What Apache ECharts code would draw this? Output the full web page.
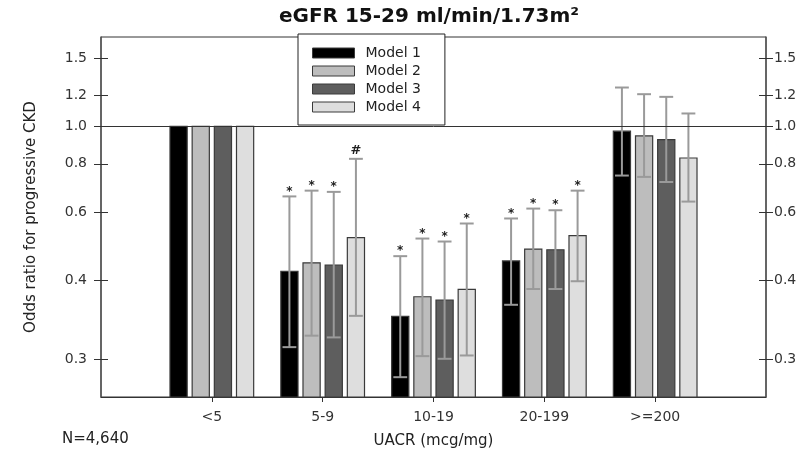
<!DOCTYPE html>
<html>
<head>
<meta charset="utf-8">
<title>eGFR 15-29 odds ratio</title>
<script src="https://cdn.jsdelivr.net/npm/echarts@6/dist/echarts.min.js"></script>
<style>
  html, body { margin: 0; padding: 0; background: #ffffff; }
  #chart { width: 812px; height: 460px; }
</style>
</head>
<body>
<div id="chart"></div>
<script>
var categories = ["<5", "5-9", "10-19", "20-199", ">=200"];
var models = ["Model 1", "Model 2", "Model 3", "Model 4"];

// odds ratio per model (rows) and UACR group (columns)
var oddsRatio = [
  [1.0, 0.422, 0.323, 0.449, 0.971],
  [1.0, 0.444, 0.363, 0.482, 0.944],
  [1.0, 0.438, 0.356, 0.480, 0.924],
  [1.0, 0.516, 0.379, 0.522, 0.828]
];
var ciLow = [
  [null, 0.269, 0.225, 0.346, 0.746],
  [null, 0.288, 0.255, 0.380, 0.740],
  [null, 0.285, 0.251, 0.380, 0.718],
  [null, 0.324, 0.256, 0.398, 0.639]
];
var ciHigh = [
  [null, 0.659, 0.462, 0.578, 1.259],
  [null, 0.682, 0.513, 0.613, 1.210],
  [null, 0.677, 0.504, 0.607, 1.191],
  [null, 0.824, 0.561, 0.682, 1.079]
];
var signif = [
  ["", "*", "*", "*", ""],
  ["", "*", "*", "*", ""],
  ["", "*", "*", "*", ""],
  ["", "#", "*", "*", ""]
];
var yTicks = [0.25, 0.4, 0.6, 0.8, 1.0, 1.2, 1.5];

var colors = ["#000000", "#bdbdbd", "#5e5e5e", "#dedede"];
var font = "DejaVu Sans";

// empty slots at both ends so the groups sit on ticks 1..5
var xCats = [" "].concat(categories, ["  "]);

function renderBar(params, api) {
  var m = params.seriesIndex;
  var idx = api.value(0);
  var band = api.size([1, 0])[0];
  var offset = (m - 1.5) * band * 0.2;
  var w = band * 0.155;
  var cap = band * 0.125;
  var top = api.coord([idx, api.value(1)]);
  var cx = top[0] + offset;
  var bottom = params.coordSys.y + params.coordSys.height;
  var children = [{
    type: "rect",
    shape: { x: cx - w / 2, y: top[1], width: w, height: bottom - top[1] },
    style: { fill: colors[m], stroke: "#3a3a3a", lineWidth: 1.2 }
  }];
  var lo = api.value(2);
  var hi = api.value(3);
  if (lo != null && hi != null && !isNaN(lo) && !isNaN(hi)) {
    var yLo = api.coord([idx, lo])[1];
    var yHi = api.coord([idx, hi])[1];
    var es = { stroke: "#9a9a9a", lineWidth: 2 };
    children.push({ type: "line", shape: { x1: cx, y1: yLo, x2: cx, y2: yHi }, style: es });
    children.push({ type: "line", shape: { x1: cx - cap / 2, y1: yLo, x2: cx + cap / 2, y2: yLo }, style: es });
    children.push({ type: "line", shape: { x1: cx - cap / 2, y1: yHi, x2: cx + cap / 2, y2: yHi }, style: es });
    var mark = signif[m][params.dataIndex];
    if (mark) {
      children.push({
        type: "text",
        style: {
          text: mark,
          x: cx,
          y: mark === "#" ? yHi - 2 : yHi + 1,
          align: "center",
          verticalAlign: "bottom",
          fill: "#222",
          font: mark === "#" ? "bold 13px " + font : "bold 12px " + font
        }
      });
    }
  }
  return { type: "group", children: children };
}

function yAxisCfg(pos, inside, withLabels) {
  return {
    type: "log",
    logBase: 10,
    min: 0.2,
    max: 1.7,
    position: pos,
    splitLine: { show: false },
    axisLine: { show: withLabels, lineStyle: { color: "#555", width: 1.5 } },
    axisTick: { show: true, inside: inside, length: 7, customValues: yTicks, lineStyle: { color: "#333", width: 1 } },
    axisLabel: {
      show: withLabels,
      customValues: yTicks,
      margin: pos === "left" ? 14 : 8,
      fontSize: 14,
      fontFamily: font,
      color: "#333",
      formatter: function (v) { return Number(v).toFixed(1); }
    }
  };
}

var series = models.map(function (name, m) {
  var s = {
    name: name,
    type: "custom",
    renderItem: renderBar,
    itemStyle: { color: colors[m], borderColor: "#3a3a3a", borderWidth: 1 },
    encode: { x: 0, y: 1 },
    data: categories.map(function (c, i) {
      return [i + 1, oddsRatio[m][i], ciLow[m][i], ciHigh[m][i]];
    })
  };
  if (m === 0) {
    s.markLine = {
      silent: true,
      symbol: "none",
      label: { show: false },
      lineStyle: { color: "#333", width: 1, type: "solid" },
      data: [{ yAxis: 1 }]
    };
  }
  return s;
});

var myChart = echarts.init(document.getElementById("chart"));
var leftAxis = yAxisCfg("left", false, true);
leftAxis.name = "Odds ratio for progressive CKD";
leftAxis.nameLocation = "middle";
leftAxis.nameGap = 62;
leftAxis.nameTextStyle = { fontSize: 15, fontFamily: font, color: "#222" };

var option = {
  backgroundColor: "#ffffff",
  animation: false,
  title: {
    text: "eGFR 15-29 ml/min/1.73m²",
    left: 429,
    top: 7,
    padding: 0,
    textAlign: "center",
    textStyle: { fontSize: 20, fontWeight: "bold", fontFamily: font, color: "#111" }
  },
  legend: {
    data: models,
    orient: "vertical",
    left: 298,
    top: 34,
    padding: [12, 24, 11, 14],
    itemGap: 4,
    itemWidth: 42,
    itemHeight: 10,
    icon: "rect",
    backgroundColor: "#ffffff",
    borderColor: "#222",
    borderWidth: 1,
    itemStyle: { borderColor: "#3a3a3a", borderWidth: 1 },
    textStyle: { fontSize: 14, lineHeight: 14, fontFamily: font, color: "#222", padding: [0, 0, 0, 6] }
  },
  grid: {
    left: 101,
    right: 46,
    top: 37,
    bottom: 63,
    show: true,
    borderColor: "#333",
    borderWidth: 1
  },
  xAxis: {
    type: "category",
    data: xCats,
    boundaryGap: false,
    axisLine: { lineStyle: { color: "#333", width: 1 } },
    axisTick: {
      show: true,
      length: 5,
      lineStyle: { color: "#333" },
      interval: function (i) { return i > 0 && i < xCats.length - 1; }
    },
    axisLabel: { margin: 13, fontSize: 14, fontFamily: font, color: "#333", interval: 0 },
    name: "UACR (mcg/mg)",
    nameLocation: "middle",
    nameGap: 37,
    nameTextStyle: { fontSize: 15, fontFamily: font, color: "#222" }
  },
  yAxis: [
    leftAxis,
    yAxisCfg("right", false, true),
    yAxisCfg("left", true, false),
    yAxisCfg("right", true, false)
  ],
  graphic: [{
    type: "text",
    left: 62,
    top: 432,
    style: { text: "N=4,640", font: "15px " + font, fill: "#222" }
  }],
  series: series
};
myChart.setOption(option);
window.onresize = function () {
  myChart.resize();
};
</script>
</body>
</html>
